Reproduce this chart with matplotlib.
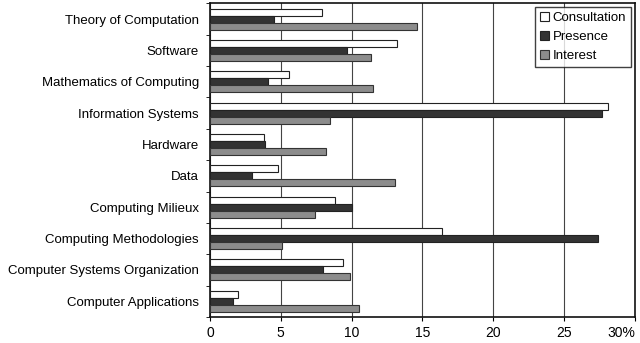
# Survey of interest in computing topics - horizontal grouped bars
import numpy as np
import matplotlib.pyplot as plt

plt.rcParams['font.family'] = ['Liberation Sans', 'DejaVu Sans']

# categories, top to bottom
categories = ['Theory of Computation', 'Software', 'Mathematics of Computing',
              'Information Systems', 'Hardware', 'Data', 'Computing Milieux',
              'Computing Methodologies', 'Computer Systems Organization',
              'Computer Applications']
consultation = [7.9, 13.2, 5.6, 28.1, 3.8, 4.8, 8.8, 16.4, 9.4, 2.0]
presence = [4.5, 9.7, 4.1, 27.7, 3.9, 3.0, 10.0, 27.4, 8.0, 1.6]
interest = [14.6, 11.4, 11.5, 8.5, 8.2, 13.1, 7.4, 5.1, 9.9, 10.5]
xticks = [0, 5, 10, 15, 20, 25, 30]
xlabels = ['0', '5', '10', '15', '20', '25', '30%']

fig = plt.figure(figsize=(6.4, 3.43), dpi=100)
ax = fig.add_axes([0.328, 0.076, 0.664, 0.914])

n = len(categories)
y = np.arange(n)[::-1]
h = 0.225

ax.barh(y + h, consultation, height=h, color='white', edgecolor='#222222', linewidth=0.8, label='Consultation', zorder=3)
ax.barh(y, presence, height=h, color='#333333', edgecolor='#222222', linewidth=0.8, label='Presence', zorder=3)
ax.barh(y - h, interest, height=h, color='#8c8c8c', edgecolor='#333333', linewidth=0.8, label='Interest', zorder=3)

ax.set_xlim(0, 30)
ax.set_ylim(-0.5, n - 0.5)
ax.set_xticks(xticks)
ax.set_xticklabels(xlabels, fontsize=10)
ax.get_xticklabels()[-1].set_horizontalalignment('right')
ax.xaxis.grid(True, color='#444444', linewidth=0.8, zorder=0)
ax.tick_params(axis='x', length=3, direction='out')

ax.set_yticks(y)
ax.set_yticklabels(categories, fontsize=9.5)
ax.tick_params(axis='y', length=0, pad=8)
ax.set_yticks(np.arange(n + 1) - 0.5, minor=True)
ax.tick_params(axis='y', which='minor', length=3, direction='out')

for s in ax.spines.values():
    s.set_linewidth(1.2)
    s.set_color('#111111')

leg = ax.legend(loc='upper right', fontsize=9.5, frameon=True, fancybox=False,
                edgecolor='#111111', handlelength=0.7, handleheight=0.7,
                handletextpad=0.3, borderpad=0.35, labelspacing=0.5,
                borderaxespad=0.3)
leg.get_frame().set_linewidth(1.0)

fig.savefig('out.png', dpi=100)
